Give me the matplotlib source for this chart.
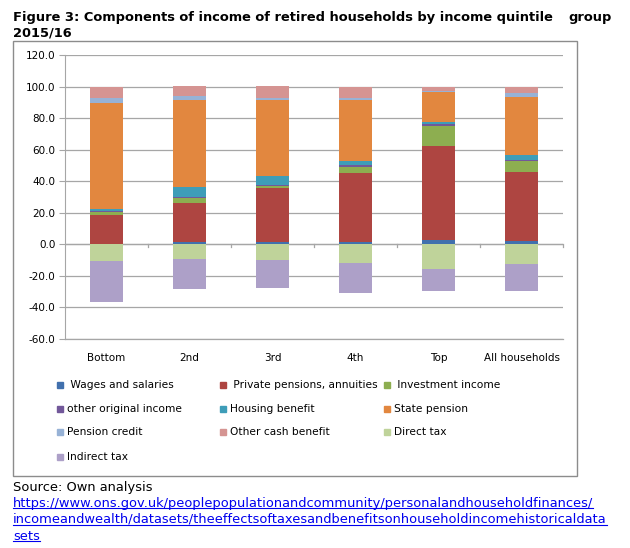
import numpy as np
import matplotlib
matplotlib.use('Agg')
import matplotlib.pyplot as plt
from matplotlib.patches import Rectangle
from matplotlib.lines import Line2D

# ===== DATA (% of gross income, retired households 2015/16) =====
categories = ['Bottom', '2nd', '3rd', '4th', 'Top', 'All households']

wages = [0.4, 1.5, 1.7, 1.7, 3.0, 1.9]
private_pensions = [18.0, 24.8, 33.9, 43.2, 59.2, 43.8]
investment = [2.1, 3.2, 1.5, 4.2, 12.7, 7.0]
other_original = [0.5, 0.3, 0.3, 1.0, 1.6, 0.6]
housing_benefit = [1.5, 6.3, 5.7, 2.8, 1.2, 3.2]
state_pension = [66.9, 55.2, 48.3, 38.5, 19.0, 37.0]
pension_credit = [3.6, 3.0, 1.5, 1.3, 0.3, 2.1]
other_cash = [6.6, 5.9, 7.4, 7.2, 2.8, 4.2]
direct_tax = [-10.8, -9.3, -9.7, -11.9, -15.7, -12.7]
indirect_tax = [-25.8, -18.8, -18.0, -18.8, -14.0, -16.9]

series_names = ['Wages and salaries', 'Private pensions, annuities', 'Investment income',
                'other original income', 'Housing benefit', 'State pension',
                'Pension credit', 'Other cash benefit', 'Direct tax', 'Indirect tax']
series_values = [wages, private_pensions, investment, other_original, housing_benefit,
                 state_pension, pension_credit, other_cash, direct_tax, indirect_tax]
colors = ['#4170AD', '#AE4541', '#8DAE50', '#72589A', '#3E9DB8', '#E2873F',
          '#97B2D6', '#D59492', '#BFD39A', '#ADA0C8']

grid_col = '#A6A6A6'

fig = plt.figure(figsize=(6.30, 5.48), dpi=100)
ax = fig.add_axes([65/630, 1 - 339/548, 498/630, 284/548])

# ===== STACKED BARS =====
x = np.arange(len(categories))
pos_base = np.zeros(len(categories))
neg_base = np.zeros(len(categories))
for vals, col in zip(series_values, colors):
    v = np.array(vals)
    base = np.where(v >= 0, pos_base, neg_base)
    ax.bar(x, v, bottom=base, width=0.4, color=col, zorder=3)
    pos_base = pos_base + np.where(v >= 0, v, 0)
    neg_base = neg_base + np.where(v < 0, v, 0)

ax.set_xlim(-0.5, len(categories) - 0.5)
ax.set_ylim(-60, 120)
yt = np.arange(-60, 121, 20)
ax.set_yticks(yt)
ax.set_yticklabels([f'{t:.1f}' for t in yt], fontsize=7.5)
ax.yaxis.grid(True, color=grid_col, lw=0.9, zorder=0)
ax.axhline(-60, color=grid_col, lw=0.9, zorder=0, clip_on=False)
ax.tick_params(axis='y', length=4, color=grid_col, pad=3)

ax.set_xticks(x)
ax.set_xticklabels(categories, fontsize=7.5)
ax.tick_params(axis='x', length=0, pad=10)

for side in ['top', 'right', 'bottom']:
    ax.spines[side].set_visible(False)
ax.spines['left'].set_color(grid_col)

# category axis at zero with tick marks between groups
ax.axhline(0, color=grid_col, lw=0.9, zorder=2)
for b in np.arange(-0.5, len(categories), 1.0)[1:]:
    ax.plot([b, b], [0, -1.6], color=grid_col, lw=0.9, zorder=2, clip_on=False)

# ===== CHART FRAME =====
fig.patches.append(Rectangle((13/630, 1 - 476/548), 564/630, 435/548,
                             transform=fig.transFigure, fill=False,
                             edgecolor='#8C8C8C', lw=1.0, zorder=0))

# ===== LEGEND (row by row, 3 columns) =====
col_x = [57, 220, 384]
row_y = [385, 409, 432, 457]
for i, (name, col) in enumerate(zip(series_names, colors)):
    r, c = divmod(i, 3)
    px, py = col_x[c], row_y[r]
    fig.patches.append(Rectangle((px/630, 1 - (py + 3)/548), 6/630, 6/548,
                                 transform=fig.transFigure, color=col))
    label = (' ' + name) if r == 0 else name
    fig.text((px + 10)/630, 1 - py/548, label, fontsize=7.7, va='center', ha='left')

# ===== TITLE =====
fig.text(13/630, 1 - 18/548, 'Figure 3: Components of income of retired households by income quintile',
         fontsize=9.4, fontweight='bold', va='center', ha='left')
fig.text(612/630, 1 - 18/548, 'group', fontsize=9.4, fontweight='bold', va='center', ha='right')
fig.text(13/630, 1 - 33/548, '2015/16', fontsize=9.4, fontweight='bold', va='center', ha='left')

# ===== SOURCE =====
fig.text(13/630, 1 - 487/548, 'Source: Own analysis', fontsize=9.4, va='center', ha='left')
url_lines = ['https://www.ons.gov.uk/peoplepopulationandcommunity/personalandhouseholdfinances/',
             'incomeandwealth/datasets/theeffectsoftaxesandbenefitsonhouseholdincomehistoricaldata',
             'sets']
url_texts = []
for k, line in enumerate(url_lines):
    t = fig.text(13/630, 1 - (503 + 16.5*k)/548, line, fontsize=9.4, color='#0000EE',
                 va='center', ha='left')
    url_texts.append(t)

# underline the link
fig.canvas.draw()
renderer = fig.canvas.get_renderer()
for t in url_texts:
    bb = t.get_window_extent(renderer)
    y_line = (bb.y0 + 1.5) / fig.bbox.height
    fig.add_artist(Line2D([bb.x0/fig.bbox.width, bb.x1/fig.bbox.width], [y_line, y_line],
                          transform=fig.transFigure, color='#0000EE', lw=0.8))

fig.savefig('out.png', dpi=100)
